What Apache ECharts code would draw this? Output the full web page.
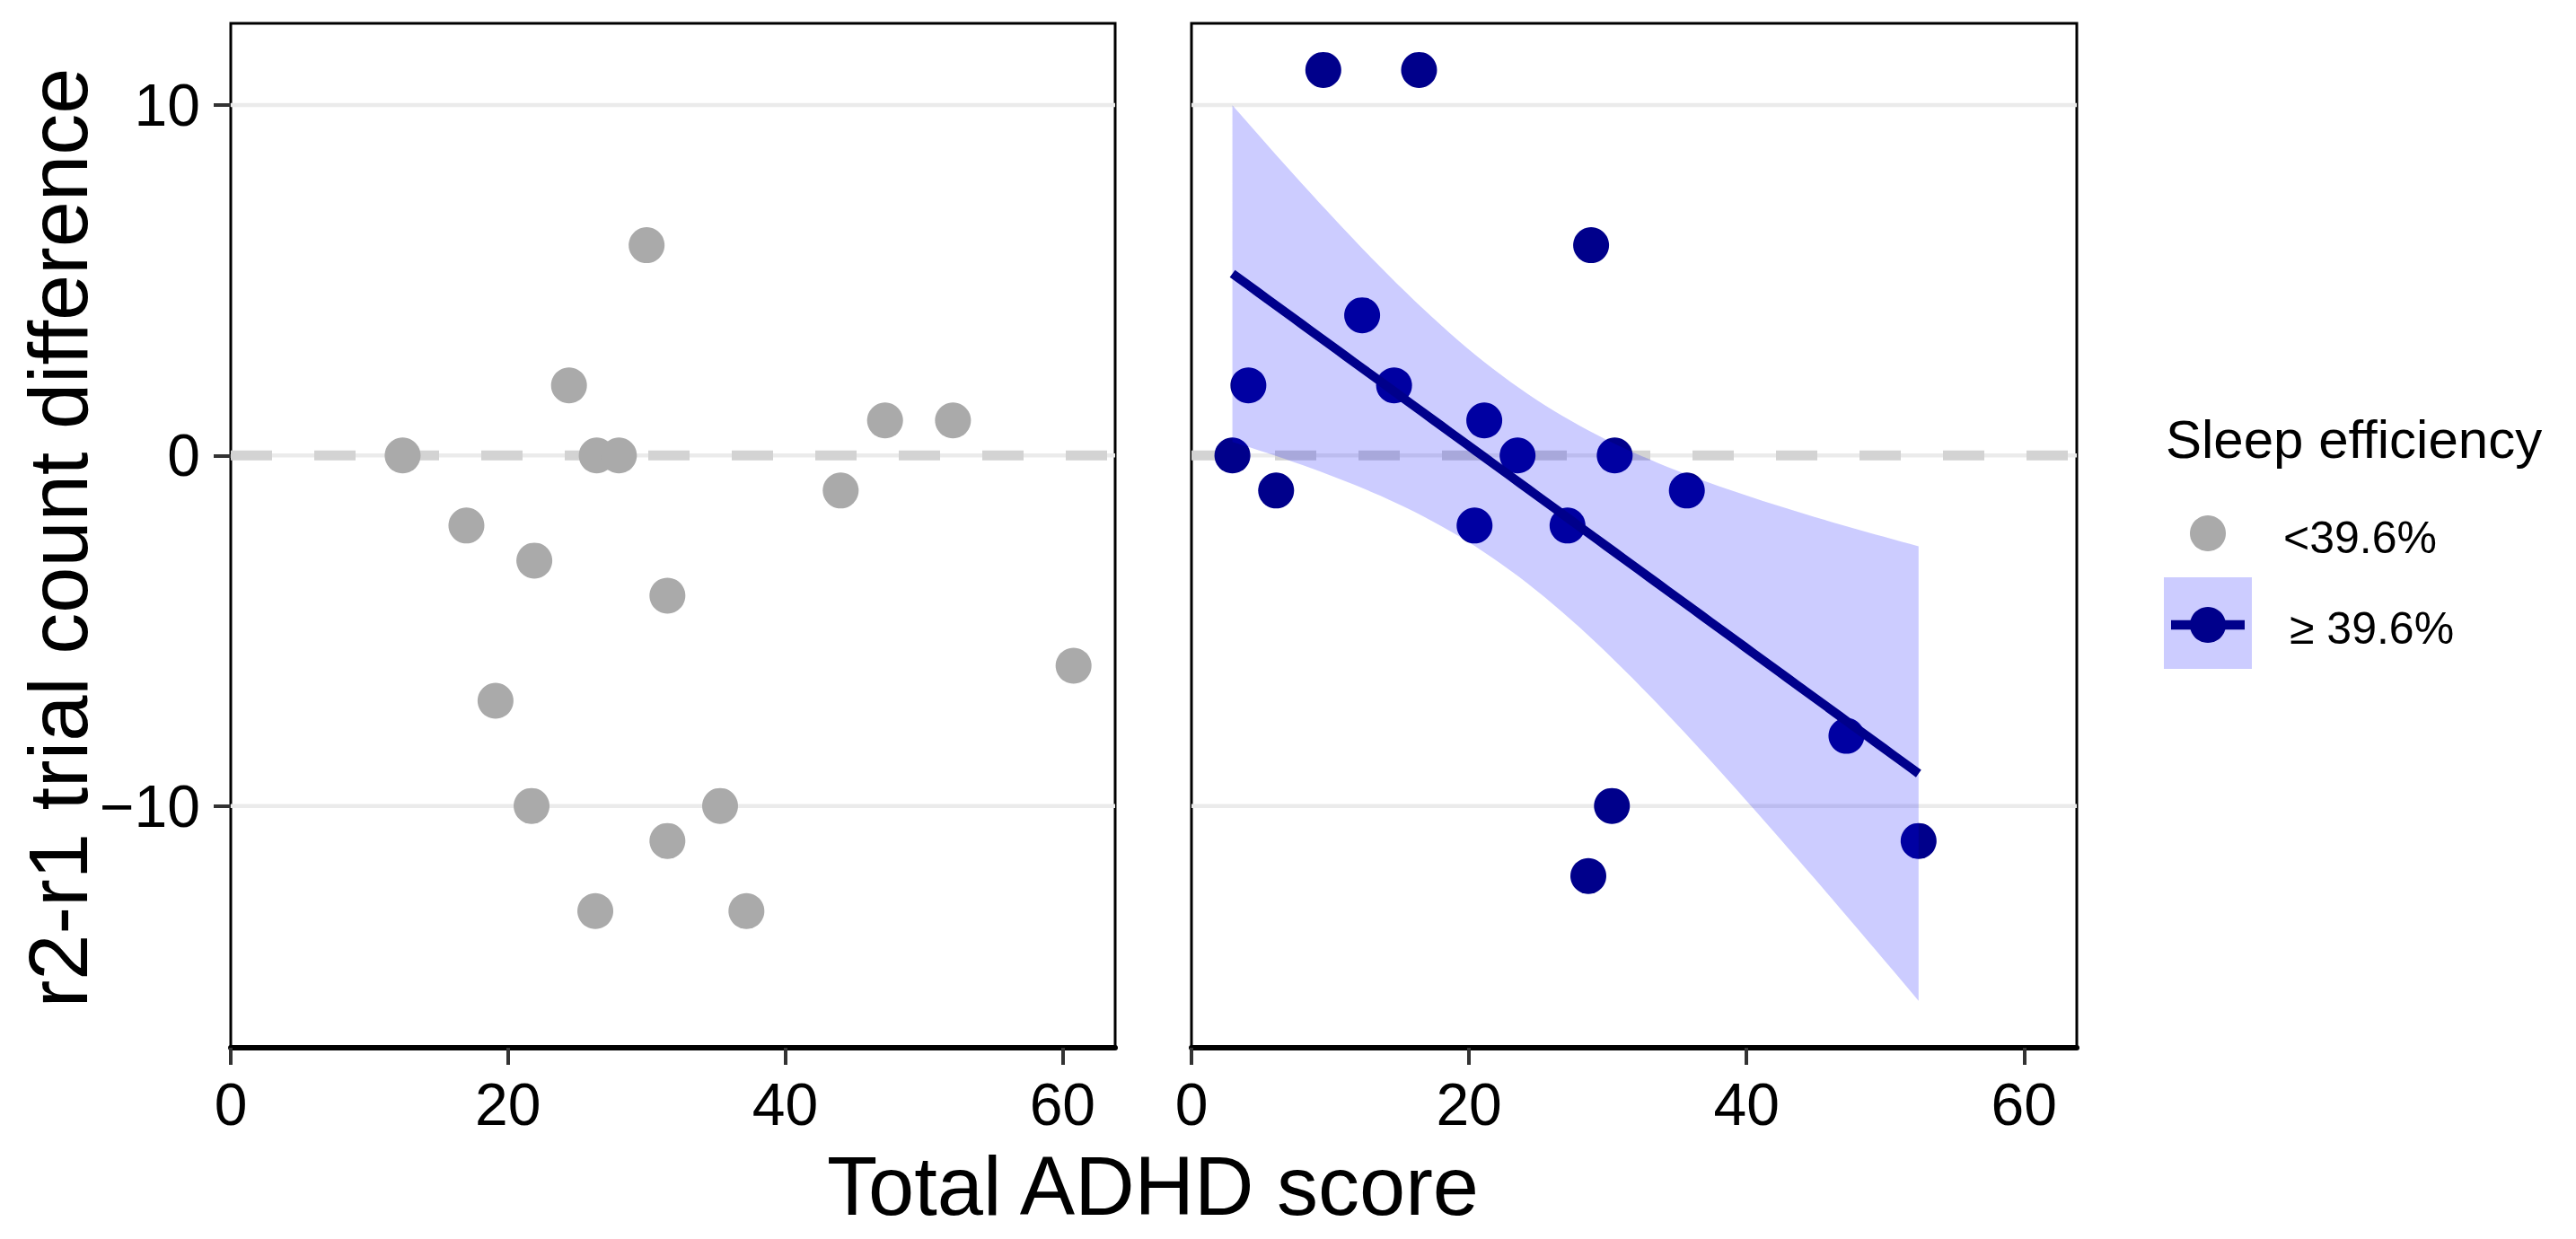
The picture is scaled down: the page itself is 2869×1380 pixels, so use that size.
<!DOCTYPE html>
<html>
<head>
<meta charset="utf-8">
<script src="https://cdn.jsdelivr.net/npm/echarts@6/dist/echarts.min.js"></script>
<style>
html,body{margin:0;padding:0;background:#ffffff;}
#chart{width:2869px;height:1380px;}
</style>
</head>
<body>
<div id="chart"></div>
<script>
// ---------------- data ----------------
// Panel 1: sleep efficiency < 39.6%
const lowX = [12.4, 17.0, 21.9, 24.4, 26.4, 28.0, 30.0, 31.5, 44.0, 47.2, 52.1, 60.8, 19.1, 21.7, 35.3, 31.5, 26.3, 37.2];
const lowY = [0, -2, -3, 2, 0, 0, 6, -4, -1, 1, 1, -6, -7, -10, -10, -11, -13, -13];
// Panel 2: sleep efficiency >= 39.6%
const highX = [2.95, 4.1, 6.1, 9.5, 12.3, 14.6, 16.4, 20.4, 21.1, 23.5, 27.1, 28.6, 28.8, 30.3, 30.5, 35.7, 47.2, 52.4];
const highY = [0, 2, -1, 11, 4, 2, 11, -2, 1, 0, -2, -12, 6, -10, 0, -1, -8, -11];
// axis ticks
const xTicks = [0, 20, 40, 60];
const yTicks = [-10, 0, 10];
const legendLabels = ['<39.6%', '\u2265 39.6%'];
const legendTitle = 'Sleep efficiency';
const xTitle = 'Total ADHD score';
const yTitle = 'r2-r1 trial count difference';

// ---------------- linear fit with 95% CI (like geom_smooth(method="lm")) ----------------
function lmFit(xs, ys) {
  const n = xs.length;
  const mx = xs.reduce((a, b) => a + b, 0) / n;
  const my = ys.reduce((a, b) => a + b, 0) / n;
  let sxx = 0, sxy = 0;
  for (let i = 0; i < n; i++) { sxx += (xs[i] - mx) ** 2; sxy += (xs[i] - mx) * (ys[i] - my); }
  const b = sxy / sxx, a = my - b * mx;
  let sse = 0;
  for (let i = 0; i < n; i++) sse += (ys[i] - (a + b * xs[i])) ** 2;
  const s = Math.sqrt(sse / (n - 2));
  return { a, b, s, sxx, mx, n };
}
const fit = lmFit(highX, highY);
const tCrit = 2.1199; // qt(0.975, df = 16)
const xLo = Math.min(...highX), xHi = Math.max(...highX);
const nGrid = 80;
const ribbon = [];
for (let i = 0; i < nGrid; i++) {
  const x = xLo + (xHi - xLo) * i / (nGrid - 1);
  const yhat = fit.a + fit.b * x;
  const se = fit.s * Math.sqrt(1 / fit.n + (x - fit.mx) ** 2 / fit.sxx);
  ribbon.push([x, yhat - tCrit * se, yhat + tCrit * se, yhat]);
}

// ---------------- layout ----------------
const X_MIN = 0, X_MAX = 63.8, Y_MIN = -16.9, Y_MAX = 12.33;
const FONT = '"Liberation Sans", Arial, sans-serif';
const GREY = '#AAAAAA', NAVY = '#00008B', RIBBON = 'rgba(0,0,255,0.2)';

function xAxisFor(gi) {
  return {
    type: 'value', gridIndex: gi, min: X_MIN, max: X_MAX,
    axisLine: { show: true, onZero: false, lineStyle: { color: '#000', width: 6 } },
    axisTick: { show: true, length: 19, customValues: xTicks, lineStyle: { color: '#333', width: 4 } },
    axisLabel: { show: true, customValues: xTicks, margin: 30, fontSize: 66, color: '#000', fontFamily: FONT },
    splitLine: { show: false }
  };
}
function yAxisFor(gi, withLabels) {
  return {
    type: 'value', gridIndex: gi, min: Y_MIN, max: Y_MAX,
    axisLine: { show: false, onZero: false },
    axisTick: { show: withLabels, length: 19, customValues: yTicks, lineStyle: { color: '#333', width: 4 } },
    axisLabel: { show: withLabels, customValues: yTicks, margin: 34, fontSize: 66, color: '#000', fontFamily: FONT,
      formatter: v => String(v).replace('-', '\u2212') },
    splitLine: { show: false }
  };
}

const series = [];
[0, 1].forEach(gi => {
  yTicks.forEach(t => {
    series.push({
      type: 'line', xAxisIndex: gi, yAxisIndex: gi, silent: true, showSymbol: false, z: 1,
      data: [[X_MIN, t], [X_MAX, t]],
      lineStyle: { color: '#EBEBEB', width: 4.5 }
    });
  });
  series.push({
    type: 'line', xAxisIndex: gi, yAxisIndex: gi, silent: true, showSymbol: false, z: 2,
    data: [[X_MIN, 0], [X_MAX, 0]],
    lineStyle: { color: '#D3D3D3', width: 11, type: [46, 47] }
  });
});

series.push({
  name: legendLabels[0], type: 'scatter', xAxisIndex: 0, yAxisIndex: 0, z: 3,
  symbol: 'circle', symbolSize: 40, itemStyle: { color: GREY, opacity: 1 },
  data: lowX.map((x, i) => [x, lowY[i]])
});
series.push({
  name: legendLabels[1], type: 'scatter', xAxisIndex: 1, yAxisIndex: 1, z: 3,
  symbol: 'circle', symbolSize: 40, itemStyle: { color: NAVY, opacity: 1 },
  data: highX.map((x, i) => [x, highY[i]])
});
series.push({
  type: 'custom', xAxisIndex: 1, yAxisIndex: 1, z: 4, silent: true, clip: true,
  data: ribbon.map(r => [r[0], r[1], r[2]]),
  encode: { x: 0, y: [1, 2] },
  renderItem: function (params, api) {
    if (params.dataIndex !== 0) return null;
    const pts = [];
    for (let i = 0; i < ribbon.length; i++) pts.push(api.coord([ribbon[i][0], ribbon[i][2]]));
    for (let i = ribbon.length - 1; i >= 0; i--) pts.push(api.coord([ribbon[i][0], ribbon[i][1]]));
    return { type: 'polygon', shape: { points: pts }, style: { fill: RIBBON } };
  }
});
series.push({
  type: 'line', xAxisIndex: 1, yAxisIndex: 1, z: 5, silent: true, showSymbol: false,
  data: ribbon.map(r => [r[0], r[3]]),
  lineStyle: { color: NAVY, width: 10 }
});

const graphic = [
  { type: 'text', x: 1284, y: 1321, silent: true,
    style: { text: xTitle, fontSize: 92, fontFamily: FONT, fill: '#000', align: 'center', verticalAlign: 'middle' } },
  { type: 'text', x: 65, y: 599, rotation: Math.PI / 2, silent: true,
    style: { text: yTitle, fontSize: 92, fontFamily: FONT, fill: '#000', align: 'center', verticalAlign: 'middle' } },
  { type: 'text', x: 2412, y: 489, silent: true,
    style: { text: legendTitle, fontSize: 60, fontFamily: FONT, fill: '#000', align: 'left', verticalAlign: 'middle' } },
  { type: 'circle', shape: { cx: 2459, cy: 594, r: 20 }, style: { fill: GREY }, silent: true },
  { type: 'text', x: 2543, y: 599, silent: true,
    style: { text: legendLabels[0], fontSize: 50, fontFamily: FONT, fill: '#000', align: 'left', verticalAlign: 'middle' } },
  { type: 'rect', shape: { x: 2410, y: 643, width: 98, height: 102 }, style: { fill: RIBBON }, silent: true },
  { type: 'line', shape: { x1: 2418, y1: 696, x2: 2500, y2: 696 }, style: { stroke: NAVY, lineWidth: 10.5 }, silent: true },
  { type: 'circle', shape: { cx: 2459, cy: 696, r: 20 }, style: { fill: NAVY }, silent: true },
  { type: 'text', x: 2550, y: 700, silent: true,
    style: { text: legendLabels[1], fontSize: 50, fontFamily: FONT, fill: '#000', align: 'left', verticalAlign: 'middle' } }
];

const chart = echarts.init(document.getElementById('chart'), null, { renderer: 'svg', width: 2869, height: 1380 });
chart.setOption({
  backgroundColor: '#ffffff',
  animation: false,
  grid: [
    { left: 257, top: 26, width: 985, height: 1141, show: true, borderColor: '#000', borderWidth: 3, backgroundColor: 'transparent', containLabel: false, outerBoundsMode: 'none' },
    { left: 1327, top: 26, width: 986, height: 1141, show: true, borderColor: '#000', borderWidth: 3, backgroundColor: 'transparent', containLabel: false, outerBoundsMode: 'none' }
  ],
  xAxis: [xAxisFor(0), xAxisFor(1)],
  yAxis: [yAxisFor(0, true), yAxisFor(1, false)],
  series: series,
  graphic: graphic
});
</script>
</body>
</html>
